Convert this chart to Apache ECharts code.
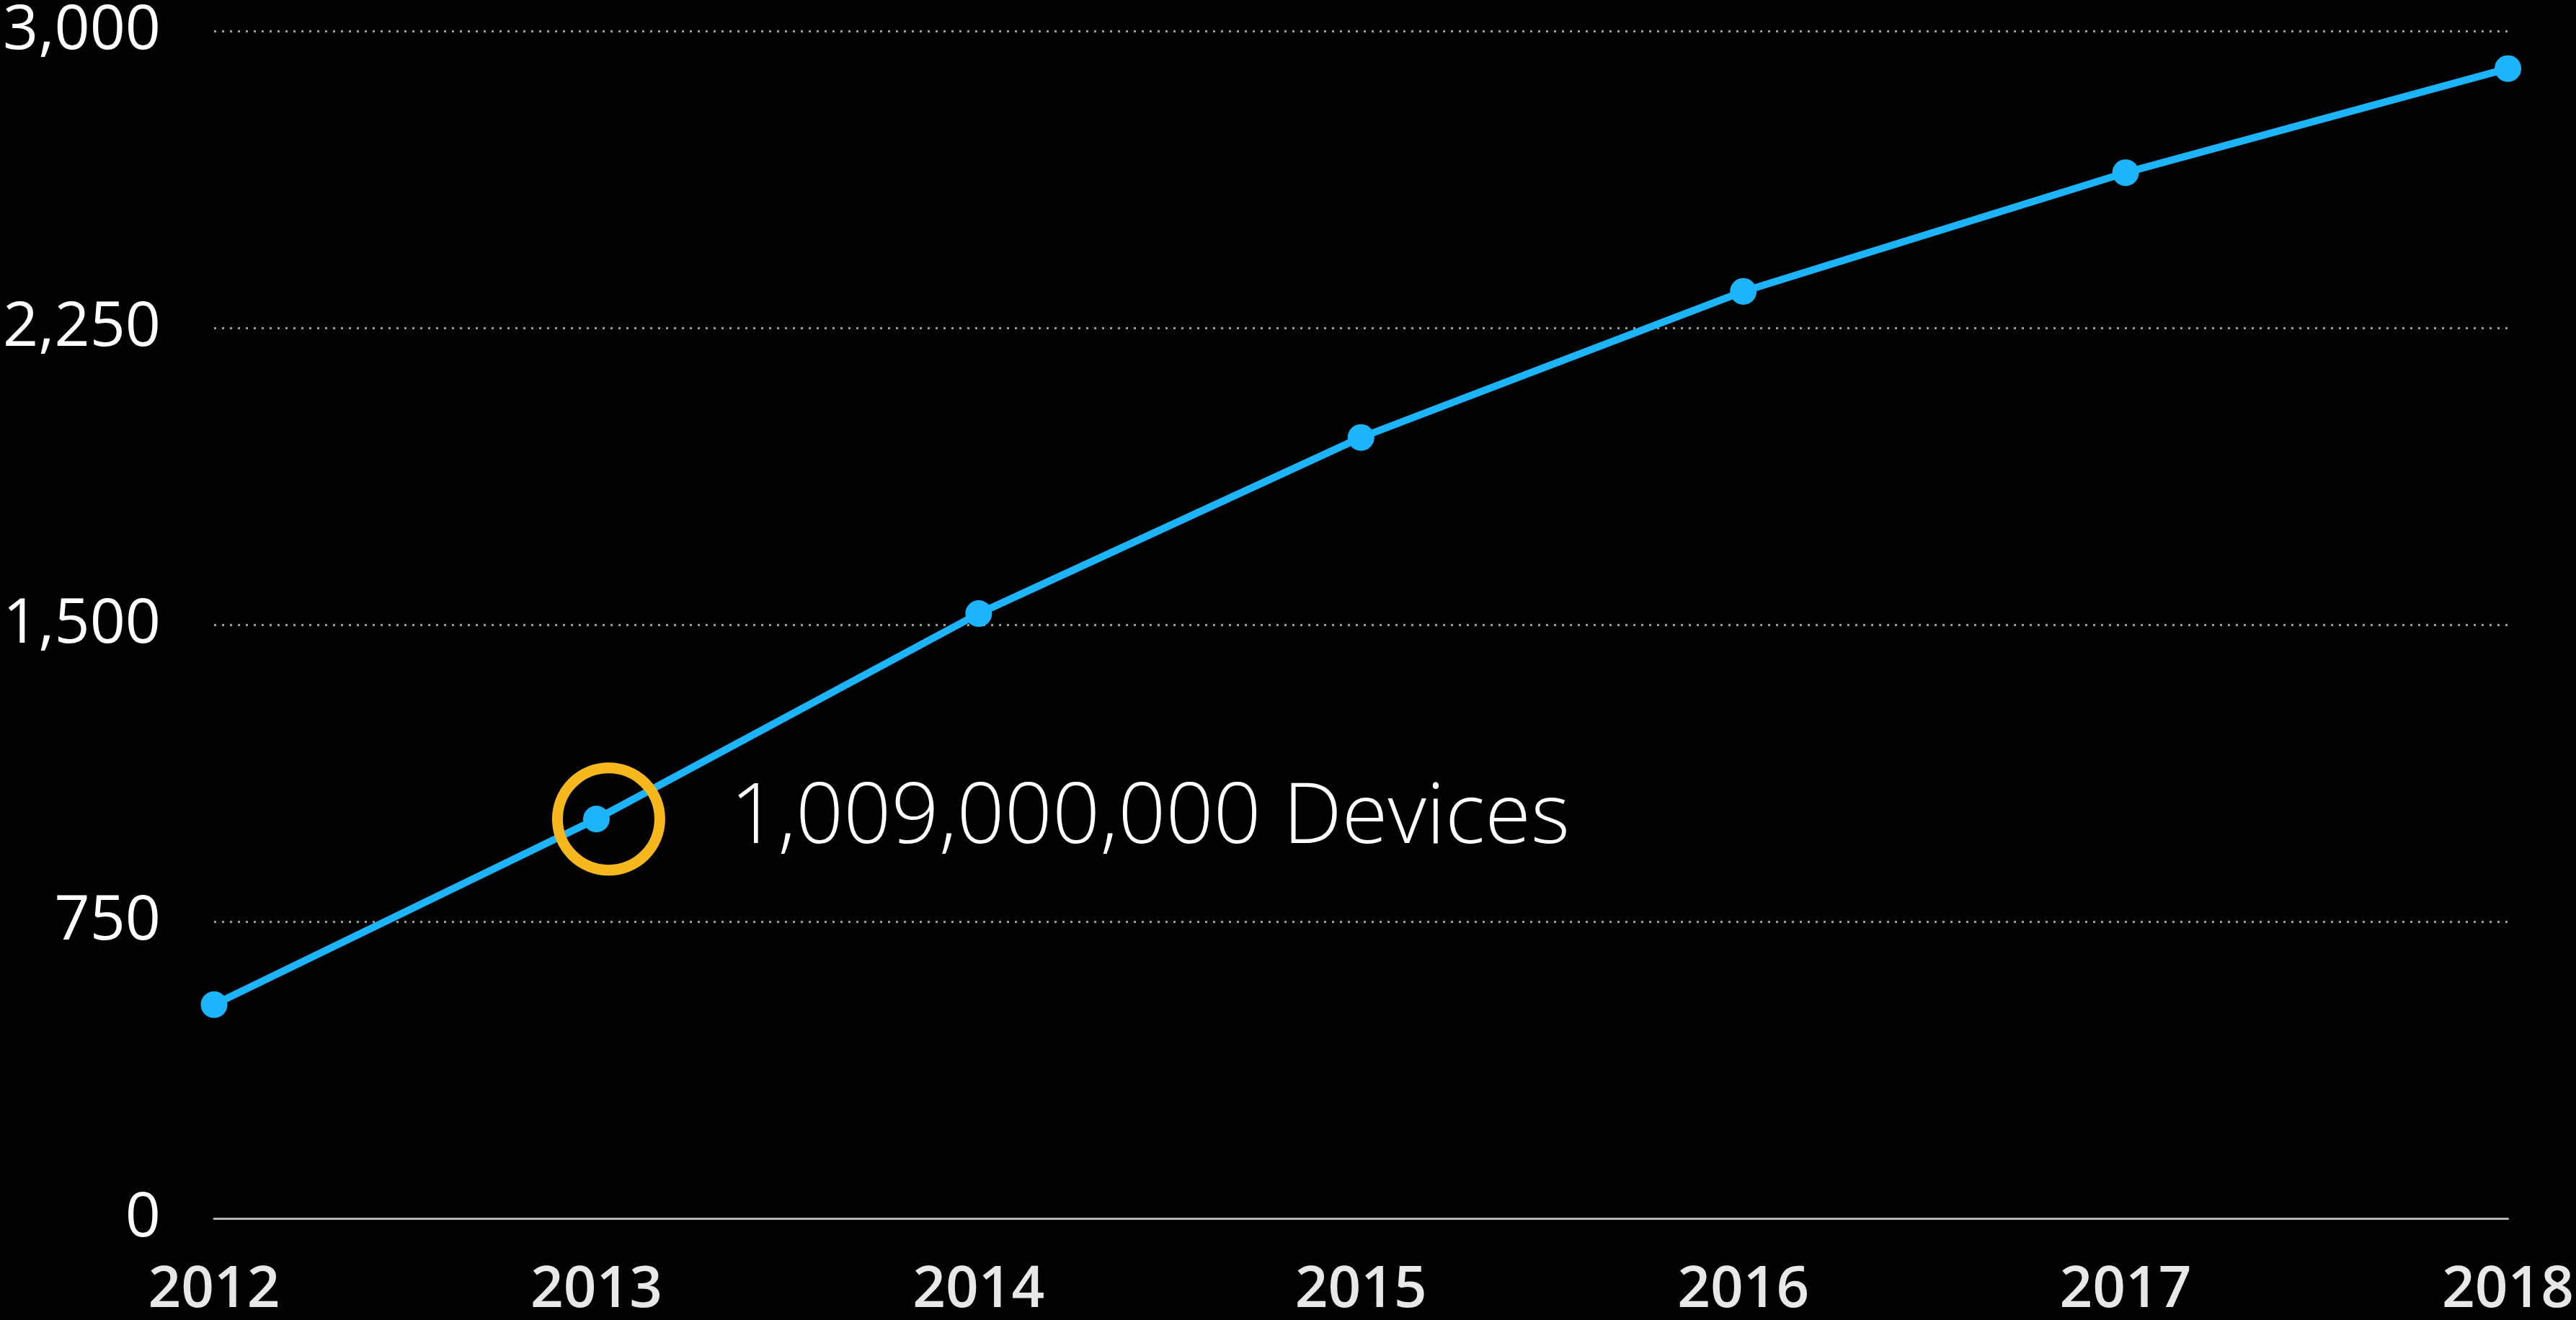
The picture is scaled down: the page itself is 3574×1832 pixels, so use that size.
<!DOCTYPE html>
<html>
<head>
<meta charset="utf-8">
<style>
  html, body { margin: 0; padding: 0; background: #000; }
  #chart { width: 3574px; height: 1832px; }
</style>
<script src="https://cdn.jsdelivr.net/npm/echarts@6/dist/echarts.min.js"></script>
</head>
<body>
<div id="chart"></div>
<script>
// Installed base, in millions of devices
const years = ['2012', '2013', '2014', '2015', '2016', '2017', '2018'];
const devices = [540, 1009, 1528, 1973, 2342, 2642, 2905];
const yTicks = [0, 750, 1500, 2250, 3000];

// The year called out with a ring and a full-count label
const highlightYear = '2013';
const highlightIndex = years.indexOf(highlightYear);
const highlightValue = devices[highlightIndex];

const chart = echarts.init(document.getElementById('chart'), null, { renderer: 'canvas' });

const fmt = v => Number(v).toLocaleString('en-US');

chart.setOption({
  backgroundColor: '#000',
  animation: false,
  grid: { left: 297, right: 90, top: 43, bottom: 141, containLabel: false },
  xAxis: {
    type: 'category',
    data: years,
    boundaryGap: false,
    axisLine: { show: true, lineStyle: { color: '#b4b4b4', width: 3 } },
    axisTick: { show: false },
    splitLine: { show: false },
    axisLabel: {
      color: '#e8e8e8',
      fontFamily: 'Open Sans',
      fontWeight: 600,
      fontSize: 80,
      margin: 60
    }
  },
  yAxis: {
    type: 'value',
    min: yTicks[0],
    max: yTicks[yTicks.length - 1],
    interval: yTicks[1] - yTicks[0],
    axisLine: { show: false },
    axisTick: { show: false },
    splitLine: {
      show: true,
      lineStyle: { color: '#9c9c9c', width: 3, type: [3, 8] }
    },
    axisLabel: {
      color: '#ffffff',
      fontFamily: 'Open Sans',
      fontSize: 86,
      margin: 74,
      formatter: fmt
    }
  },
  series: [
    {
      name: 'Devices',
      type: 'line',
      data: devices,
      symbol: 'circle',
      symbolSize: 37,
      showAllSymbol: true,
      lineStyle: { color: '#1cb5fb', width: 10 },
      itemStyle: { color: '#1cb5fb' },
      z: 3
    },
    {
      name: 'Highlight',
      type: 'scatter',
      data: [[highlightIndex, highlightValue]],
      symbol: 'circle',
      symbolSize: 142,
      symbolOffset: [17, 0],
      itemStyle: {
        color: 'rgba(0,0,0,0)',
        borderColor: '#f6b81d',
        borderWidth: 15,
        opacity: 1
      },
      label: {
        show: true,
        position: 'right',
        distance: 90,
        color: '#ffffff',
        opacity: 1,
        fontFamily: 'Open Sans',
        fontWeight: 300,
        fontSize: 116,
        formatter: p => fmt(p.value[1] * 1e6) + ' Devices'
      },
      z: 4
    }
  ]
});
</script>
</body>
</html>
